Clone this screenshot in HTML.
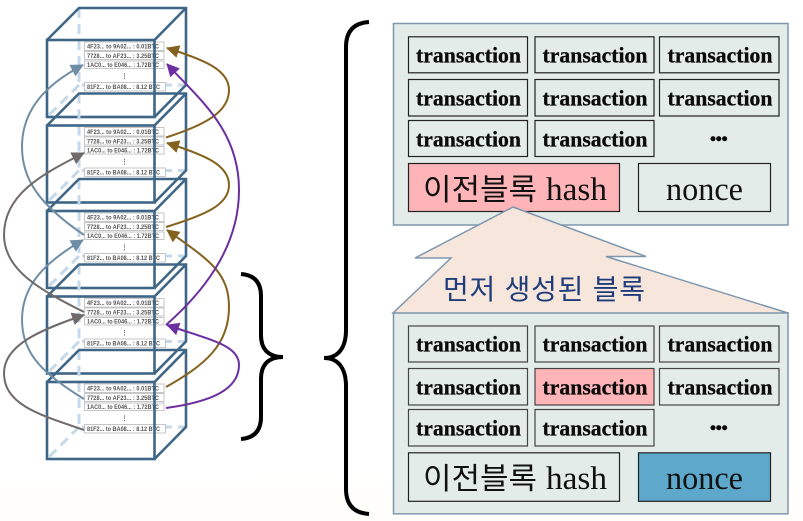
<!DOCTYPE html>
<html lang="ko">
<head>
<meta charset="utf-8">
<title>Block chain diagram</title>
<style>
html,body{margin:0;padding:0;width:803px;height:521px;overflow:hidden;background:linear-gradient(#fff 0,#fff 475px,#fffefa 505px,#fffefa 521px)}
svg{display:block;position:absolute;left:0;top:0}
.dash{fill:none;stroke:#c6d9e9;stroke-width:3;stroke-dasharray:10 6}
.edge{fill:none;stroke:#3f6686;stroke-width:2.6}
.row{fill:#fff;stroke:#b8b8b8;stroke-width:.8}
.rt{font:bold 6px "Liberation Sans",sans-serif;fill:#555}
.panel{fill:#e4ecea;stroke:#7f97ad;stroke-width:1.5}
.cell{fill:#e4ecea;stroke:#222;stroke-width:1.2}
.tx{font:bold 22px "Liberation Serif",serif;fill:#0b0b0b;stroke:#0b0b0b;stroke-width:.3}
.dots{font:bold 32px "Liberation Serif",serif;fill:#0b0b0b;letter-spacing:-2.2px}
.ko{font:30px "Liberation Sans","Noto Sans CJK KR",sans-serif;fill:#111}
.se{font:33px "Liberation Serif",serif;fill:#111}
.cv{fill:none;stroke-width:2}
</style>
</head>
<body>
<svg width="803" height="521" viewBox="0 0 803 521" xmlns="http://www.w3.org/2000/svg">
<defs>
<marker id="mb" markerUnits="userSpaceOnUse" markerWidth="14" markerHeight="14" refX="12" refY="6.5" orient="auto"><path d="M0 0L13 6.500L0 13Z" fill="#84621f"/></marker>
<marker id="mp" markerUnits="userSpaceOnUse" markerWidth="14" markerHeight="14" refX="12" refY="6.5" orient="auto"><path d="M0 0L13 6.500L0 13Z" fill="#6b2fa0"/></marker>
<marker id="ml" markerUnits="userSpaceOnUse" markerWidth="14" markerHeight="14" refX="12" refY="6.5" orient="auto"><path d="M0 0L13 6.500L0 13Z" fill="#6f8ea6"/></marker>
<marker id="mg" markerUnits="userSpaceOnUse" markerWidth="14" markerHeight="14" refX="12" refY="6.5" orient="auto"><path d="M0 0L13 6.500L0 13Z" fill="#706a6a"/></marker>
</defs>

<!-- cube 1 -->
<g>
<path class="dash" d="M79 8V85H186M79 85L47 117"/>
<rect class="row" x="84.5" y="42" width="79.500" height="8.500"/><rect class="row" x="84.5" y="51.500" width="79.500" height="8"/><rect class="row" x="84.5" y="61" width="79.500" height="7.500"/><rect class="row" x="84.5" y="82.500" width="81" height="8.500"/>
<text class="rt" x="87" y="48.500" textLength="72" lengthAdjust="spacingAndGlyphs">4F23... to 9A02... : 0.01BTC</text>
<text class="rt" x="87" y="58" textLength="72" lengthAdjust="spacingAndGlyphs">7728... to AF23... : 3.25BTC</text>
<text class="rt" x="87" y="67" textLength="72" lengthAdjust="spacingAndGlyphs">1AC0... to E046... : 1.72BTC</text>
<text class="rt" x="124.500" y="78" text-anchor="middle">⋮</text>
<text class="rt" x="87" y="89" textLength="73" lengthAdjust="spacingAndGlyphs">81F2... to BA08... : 8.12 BTC</text>
<rect class="edge" x="47" y="40" width="107.500" height="77"/>
<path class="edge" d="M47 40L79 8H186V85L154.500 117M154.500 40L186 8"/>
</g>
<!-- cube 2 -->
<g transform="translate(0,85.5)">
<path class="dash" d="M79 8V85H186M79 85L47 117"/>
<rect class="row" x="84.5" y="42" width="79.500" height="8.500"/><rect class="row" x="84.5" y="51.500" width="79.500" height="8"/><rect class="row" x="84.5" y="61" width="79.500" height="7.500"/><rect class="row" x="84.5" y="82.500" width="81" height="8.500"/>
<text class="rt" x="87" y="48.500" textLength="72" lengthAdjust="spacingAndGlyphs">4F23... to 9A02... : 0.01BTC</text>
<text class="rt" x="87" y="58" textLength="72" lengthAdjust="spacingAndGlyphs">7728... to AF23... : 3.25BTC</text>
<text class="rt" x="87" y="67" textLength="72" lengthAdjust="spacingAndGlyphs">1AC0... to E046... : 1.72BTC</text>
<text class="rt" x="124.500" y="78" text-anchor="middle">⋮</text>
<text class="rt" x="87" y="89" textLength="73" lengthAdjust="spacingAndGlyphs">81F2... to BA08... : 8.12 BTC</text>
<rect class="edge" x="47" y="40" width="107.500" height="77"/>
<path class="edge" d="M47 40L79 8H186V85L154.500 117M154.500 40L186 8"/>
</g>
<!-- cube 3 -->
<g transform="translate(0,171)">
<path class="dash" d="M79 8V85H186M79 85L47 117"/>
<rect class="row" x="84.5" y="42" width="79.500" height="8.500"/><rect class="row" x="84.5" y="51.500" width="79.500" height="8"/><rect class="row" x="84.5" y="61" width="79.500" height="7.500"/><rect class="row" x="84.5" y="82.500" width="81" height="8.500"/>
<text class="rt" x="87" y="48.500" textLength="72" lengthAdjust="spacingAndGlyphs">4F23... to 9A02... : 0.01BTC</text>
<text class="rt" x="87" y="58" textLength="72" lengthAdjust="spacingAndGlyphs">7728... to AF23... : 3.25BTC</text>
<text class="rt" x="87" y="67" textLength="72" lengthAdjust="spacingAndGlyphs">1AC0... to E046... : 1.72BTC</text>
<text class="rt" x="124.500" y="78" text-anchor="middle">⋮</text>
<text class="rt" x="87" y="89" textLength="73" lengthAdjust="spacingAndGlyphs">81F2... to BA08... : 8.12 BTC</text>
<rect class="edge" x="47" y="40" width="107.500" height="77"/>
<path class="edge" d="M47 40L79 8H186V85L154.500 117M154.500 40L186 8"/>
</g>
<!-- cube 4 -->
<g transform="translate(0,256.5)">
<path class="dash" d="M79 8V85H186M79 85L47 117"/>
<rect class="row" x="84.5" y="42" width="79.500" height="8.500"/><rect class="row" x="84.5" y="51.500" width="79.500" height="8"/><rect class="row" x="84.5" y="61" width="79.500" height="7.500"/><rect class="row" x="84.5" y="82.500" width="81" height="8.500"/>
<text class="rt" x="87" y="48.500" textLength="72" lengthAdjust="spacingAndGlyphs">4F23... to 9A02... : 0.01BTC</text>
<text class="rt" x="87" y="58" textLength="72" lengthAdjust="spacingAndGlyphs">7728... to AF23... : 3.25BTC</text>
<text class="rt" x="87" y="67" textLength="72" lengthAdjust="spacingAndGlyphs">1AC0... to E046... : 1.72BTC</text>
<text class="rt" x="124.500" y="78" text-anchor="middle">⋮</text>
<text class="rt" x="87" y="89" textLength="73" lengthAdjust="spacingAndGlyphs">81F2... to BA08... : 8.12 BTC</text>
<rect class="edge" x="47" y="40" width="107.500" height="77"/>
<path class="edge" d="M47 40L79 8H186V85L154.500 117M154.500 40L186 8"/>
</g>
<!-- cube 5 -->
<g transform="translate(0,342)">
<path class="dash" d="M79 8V85H186M79 85L47 117"/>
<rect class="row" x="84.5" y="42" width="79.500" height="8.500"/><rect class="row" x="84.5" y="51.500" width="79.500" height="8"/><rect class="row" x="84.5" y="61" width="79.500" height="7.500"/><rect class="row" x="84.5" y="82.500" width="81" height="8.500"/>
<text class="rt" x="87" y="48.500" textLength="72" lengthAdjust="spacingAndGlyphs">4F23... to 9A02... : 0.01BTC</text>
<text class="rt" x="87" y="58" textLength="72" lengthAdjust="spacingAndGlyphs">7728... to AF23... : 3.25BTC</text>
<text class="rt" x="87" y="67" textLength="72" lengthAdjust="spacingAndGlyphs">1AC0... to E046... : 1.72BTC</text>
<text class="rt" x="124.500" y="78" text-anchor="middle">⋮</text>
<text class="rt" x="87" y="89" textLength="73" lengthAdjust="spacingAndGlyphs">81F2... to BA08... : 8.12 BTC</text>
<rect class="edge" x="47" y="40" width="107.500" height="77"/>
<path class="edge" d="M47 40L79 8H186V85L154.500 117M154.500 40L186 8"/>
</g>

<!-- curved arrows -->
<path class="cv" stroke="#84621f" marker-end="url(#mb)" d="M166 137.500C205 125 229 112 229 90C229 70 205 60 167 48"/>
<path class="cv" stroke="#84621f" marker-end="url(#mb)" d="M166 227C205 215 229 205 229 185C229 165 205 155 167 143"/>
<path class="cv" stroke="#84621f" marker-end="url(#mb)" d="M166 387C205 365 229 345 229 307C229 270 205 258 167 230"/>
<path class="cv" stroke="#6b2fa0" marker-end="url(#mp)" d="M166 325C200 295 239 250 239 190C239 130 200 100 167 64"/>
<path class="cv" stroke="#6b2fa0" marker-end="url(#mp)" d="M166 408C210 402 239 390 239 365C239 345 210 340 167 325"/>
<path class="cv" stroke="#6f8ea6" marker-end="url(#ml)" d="M84 235C40 205 22 180 22 147C22 110 45 85 83 65"/>
<path class="cv" stroke="#6f8ea6" marker-end="url(#ml)" d="M84 399C45 375 22 355 22 320C22 285 45 262 83 240"/>
<path class="cv" stroke="#706a6a" marker-end="url(#mg)" d="M84 312C40 290 4 270 4 235C4 195 40 175 84 153"/>
<path class="cv" stroke="#706a6a" marker-end="url(#mg)" d="M84 430C40 415 4 405 4 373C4 345 40 330 84 315"/>

<!-- braces -->
<path fill="none" stroke="#000" stroke-width="4" d="M241 274C254 275 261 282 261 296V335C261 349 268 357 283 357C268 357 261 365 261 379V417C261 431 254 438 241 439"/>
<path fill="none" stroke="#000" stroke-width="4" d="M369 22C354 23 346 31 346 47V330C346 348 338 358 324 358C338 358 346 368 346 386V489C346 505 354 513 369 514"/>

<!-- top panel -->
<rect class="panel" x="393.500" y="23.500" width="394.500" height="201.500"/>
<rect class="cell" x="408.500" y="36.800" width="119" height="36"/><rect class="cell" x="535" y="36.800" width="119" height="36"/><rect class="cell" x="659.500" y="36.800" width="119.500" height="36"/>
<rect class="cell" x="408.500" y="79.500" width="119" height="36.500"/><rect class="cell" x="535" y="79.500" width="119" height="36.500"/><rect class="cell" x="659.500" y="79.500" width="119.500" height="36.500"/>
<rect class="cell" x="408.500" y="120.500" width="119" height="36"/><rect class="cell" x="535" y="120.500" width="119" height="36"/>
<text class="tx" x="416" y="62.500" textLength="105" lengthAdjust="spacingAndGlyphs">transaction</text><text class="tx" x="542.500" y="62.500" textLength="105" lengthAdjust="spacingAndGlyphs">transaction</text><text class="tx" x="667.500" y="62.500" textLength="105" lengthAdjust="spacingAndGlyphs">transaction</text>
<text class="tx" x="416" y="105.500" textLength="105" lengthAdjust="spacingAndGlyphs">transaction</text><text class="tx" x="542.500" y="105.500" textLength="105" lengthAdjust="spacingAndGlyphs">transaction</text><text class="tx" x="667.500" y="105.500" textLength="105" lengthAdjust="spacingAndGlyphs">transaction</text>
<text class="tx" x="416" y="146.500" textLength="105" lengthAdjust="spacingAndGlyphs">transaction</text><text class="tx" x="542.500" y="146.500" textLength="105" lengthAdjust="spacingAndGlyphs">transaction</text>
<text class="dots" x="709" y="141">...</text>
<rect class="cell" x="408.500" y="163.500" width="211" height="48" style="fill:#ffb5b8"/>
<rect class="cell" x="638.500" y="163.500" width="132" height="48"/>
<text class="ko" x="423" y="200" textLength="114" lengthAdjust="spacingAndGlyphs">이전블록</text>
<text class="se" x="546" y="200" textLength="61" lengthAdjust="spacingAndGlyphs">hash</text>
<text class="se" x="666" y="200" textLength="77" lengthAdjust="spacingAndGlyphs">nonce</text>

<!-- bottom panel -->
<rect class="panel" x="393.500" y="312.800" width="394.500" height="201"/>
<!-- arrow -->
<path d="M513 207L415 258H451L393 313H788L606 256.500H646Z" fill="#f6e6dc" stroke="#7f97ad" stroke-width="1.5" stroke-linejoin="miter"/>
<text x="443" y="299" textLength="202" lengthAdjust="spacing" style="font:28px 'Liberation Sans','Noto Sans CJK KR',sans-serif;fill:#1f3d7a">먼저 생성된 블록</text>

<rect class="cell" x="408.500" y="326" width="119" height="36" style="stroke:#444"/><rect class="cell" x="535" y="326" width="119" height="36" style="stroke:#444"/><rect class="cell" x="659.500" y="326" width="119.500" height="36" style="stroke:#444"/>
<rect class="cell" x="408.500" y="368.500" width="119" height="36.500" style="stroke:#444"/><rect class="cell" x="535" y="368.500" width="119" height="36.500" style="fill:#ffb5b8;stroke:#444"/><rect class="cell" x="659.500" y="368.500" width="119.500" height="36.500" style="stroke:#444"/>
<rect class="cell" x="408.500" y="409.500" width="119" height="36.500" style="stroke:#444"/><rect class="cell" x="535" y="409.500" width="119" height="36.500" style="stroke:#444"/>
<text class="tx" x="416" y="351.500" textLength="105" lengthAdjust="spacingAndGlyphs">transaction</text><text class="tx" x="542.500" y="351.500" textLength="105" lengthAdjust="spacingAndGlyphs">transaction</text><text class="tx" x="667.500" y="351.500" textLength="105" lengthAdjust="spacingAndGlyphs">transaction</text>
<text class="tx" x="416" y="394.500" textLength="105" lengthAdjust="spacingAndGlyphs">transaction</text><text class="tx" x="542.500" y="394.500" textLength="105" lengthAdjust="spacingAndGlyphs">transaction</text><text class="tx" x="667.500" y="394.500" textLength="105" lengthAdjust="spacingAndGlyphs">transaction</text>
<text class="tx" x="416" y="435.500" textLength="105" lengthAdjust="spacingAndGlyphs">transaction</text><text class="tx" x="542.500" y="435.500" textLength="105" lengthAdjust="spacingAndGlyphs">transaction</text>
<text class="dots" x="709" y="430">...</text>
<rect class="cell" x="408.500" y="452.800" width="211" height="48.500"/>
<rect class="cell" x="638.500" y="452.800" width="132" height="48.500" style="fill:#5ea8cb"/>
<text class="ko" x="423" y="489" textLength="114" lengthAdjust="spacingAndGlyphs">이전블록</text>
<text class="se" x="546" y="489" textLength="61" lengthAdjust="spacingAndGlyphs">hash</text>
<text class="se" x="666" y="489" textLength="77" lengthAdjust="spacingAndGlyphs">nonce</text>
</svg>
</body>
</html>
